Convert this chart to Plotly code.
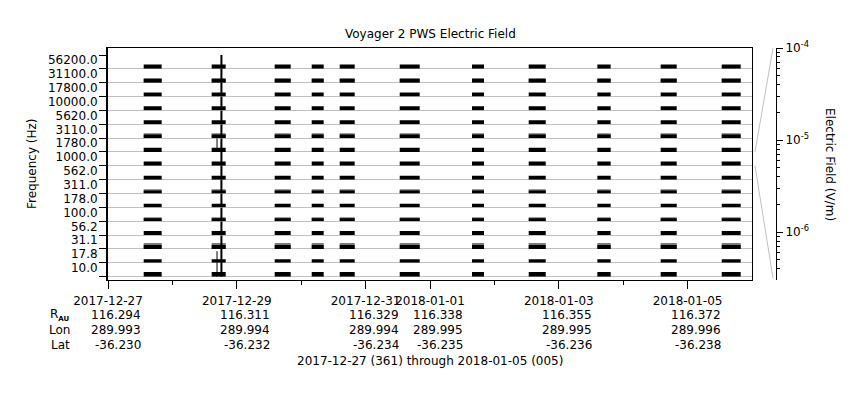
import plotly.graph_objects as go

# ---------------- data ----------------
freq_labels = ["56200.0", "31100.0", "17800.0", "10000.0", "5620.0", "3110.0",
               "1780.0", "1000.0", "562.0", "311.0", "178.0", "100.0",
               "56.2", "31.1", "17.8", "10.0"]

# envelope of the densely drawn (black) part of each channel, V/m
level_black = [1.8e-6, 1.5e-6, 1.7e-6, 1.7e-6, 1.7e-6, 1.4e-6, 1.8e-6, 1.9e-6,
               1.6e-6, 1.1e-6, 1.4e-6, 1.1e-6, 1.7e-6, 1.6e-6, 1.4e-6, 2.2e-6]
# envelope of the sparser (gray) excursions, V/m
level_gray = [1.8e-6, 2.1e-6, 1.7e-6, 1.7e-6, 1.7e-6, 2.3e-6, 1.8e-6, 1.9e-6,
              1.6e-6, 1.9e-6, 1.4e-6, 1.7e-6, 1.7e-6, 3.7e-6, 1.4e-6, 2.2e-6]
noise_floor = 3.1e-7

burst_start = ["2017-12-27 13:18", "2017-12-28 14:38", "2017-12-29 14:07",
               "2017-12-30 03:55", "2017-12-30 14:21", "2017-12-31 12:43",
               "2018-01-01 15:39", "2018-01-02 12:47", "2018-01-03 14:22",
               "2018-01-04 13:58", "2018-01-05 12:43"]
burst_end = ["2017-12-27 20:00", "2017-12-28 19:52", "2017-12-29 20:05",
             "2017-12-30 08:23", "2017-12-30 19:56", "2017-12-31 20:10",
             "2018-01-01 20:08", "2018-01-02 19:08", "2018-01-03 19:20",
             "2018-01-04 19:57", "2018-01-05 19:47"]

spike_main_time = "2017-12-28 18:16"
spike_main_values = [1e-4, 1e-4, 1e-4, 1e-4, 1e-4, 1e-4, 1e-4, 1e-4,
                     1e-4, 1e-4, 1e-4, 1e-4, 1e-4, 1e-4, 1e-4, 1e-4]
spike_minor_time = "2017-12-28 16:38"
spike_minor_values = [None, None, None, None, None, None, 1e-4, None,
                      None, None, None, None, None, None, 4e-5, 1e-4]

highlight_channel = "1000.0"

tick_dates = ["2017-12-27", "2017-12-29", "2017-12-31", "2018-01-01",
              "2018-01-03", "2018-01-05"]
minor_dates = ["2017-12-28", "2017-12-30", "2018-01-02", "2018-01-04"]
r_au = ["116.294", "116.311", "116.329", "116.338", "116.355", "116.372"]
lon = ["289.993", "289.994", "289.994", "289.995", "289.995", "289.996"]
lat = ["-36.230", "-36.232", "-36.234", "-36.235", "-36.236", "-36.238"]

x_range = ["2017-12-27", "2018-01-06"]
e_log_range = [-6.5186, -4.0]
e_major = [1e-6, 1e-5, 1e-4]
e_major_text = ["10<sup>-6</sup>", "10<sup>-5</sup>", "10<sup>-4</sup>"]
e_minor = [4e-7, 5e-7, 6e-7, 7e-7, 8e-7, 9e-7,
           2e-6, 3e-6, 4e-6, 5e-6, 6e-6, 7e-6, 8e-6, 9e-6,
           2e-5, 3e-5, 4e-5, 5e-5, 6e-5, 7e-5, 8e-5, 9e-5]

title_text = "Voyager 2 PWS Electric Field"
footer_text = "2017-12-27 (361) through 2018-01-05 (005)"

# ---------------- layout geometry ----------------
W, H = 860, 400
ML, MR, MT, MB = 108, 84, 48, 120
PW, PH = W - ML - MR, H - MT - MB
FRAME_RIGHT = 752
BAND_TOP = 55.0
BAND_H = 13.856
FONT = "DejaVu Sans"
GRID = "#c0c0c0"
n = len(freq_labels)


def px_y(p):
    return (H - MB - p) / PH


def px_x(p):
    return (p - ML) / PW


xdom = [0, px_x(FRAME_RIGHT)]

fig = go.Figure()

layout = dict(
    width=W, height=H,
    margin=dict(l=ML, r=MR, t=MT, b=MB, pad=0, autoexpand=False),
    paper_bgcolor="white", plot_bgcolor="rgba(0,0,0,0)",
    showlegend=False,
    font=dict(family=FONT, size=12, color="black"),
)

frame_range = [(H - MB - BAND_TOP) / BAND_H, (MT - BAND_TOP) / BAND_H]

layout["xaxis"] = dict(
    type="date", range=x_range, domain=xdom, anchor="y",
    showline=True, linecolor="black", linewidth=1, mirror=True,
    ticks="outside", ticklen=8, tickcolor="black", tickangle=0,
    tickvals=tick_dates, ticktext=tick_dates, ticklabelstandoff=2,
    minor=dict(tickvals=minor_dates, ticks="outside", ticklen=4,
               tickcolor="black", showgrid=False),
    showgrid=False, zeroline=False, fixedrange=True, automargin=False,
    tickfont=dict(size=12, family=FONT),
)
layout["yaxis"] = dict(
    range=frame_range, domain=[0, 1], anchor="x",
    tickvals=list(range(1, n + 1)), showticklabels=False,
    ticks="outside", ticklen=7, tickcolor="black",
    minor=dict(tickvals=[0], ticks="outside", ticklen=7,
               tickcolor="black", showgrid=False),
    showgrid=True, gridcolor=GRID, gridwidth=1,
    showline=True, linecolor="black", linewidth=2, mirror=False,
    zeroline=False, fixedrange=True, automargin=False,
)

# band axes
band_axes = []
for k in range(n):
    name = "yaxis%d" % (k + 2)
    top = BAND_TOP + k * BAND_H
    bot = BAND_TOP + (k + 1) * BAND_H
    layout[name] = dict(domain=[px_y(bot), px_y(top)], anchor="x",
                        type="log", range=e_log_range, visible=False,
                        fixedrange=True)
    band_axes.append("y%d" % (k + 2))

# frequency label axis
lab_id = n + 2
layout["yaxis%d" % lab_id] = dict(
    overlaying="y", anchor="x", side="left", range=frame_range,
    tickvals=[k + 0.37 for k in range(n)], ticktext=freq_labels,
    ticks="outside", ticklen=7, tickcolor="rgba(0,0,0,0)",
    showgrid=False, showline=False, zeroline=False, fixedrange=True,
    automargin=False, tickfont=dict(size=12, family=FONT),
)
# electric field axis on the right
ef_id = n + 3
layout["yaxis%d" % ef_id] = dict(
    overlaying="y", anchor="free", position=1, side="right",
    type="log", range=[e_log_range[0], e_log_range[1] + 0.0005],
    tickvals=e_major, ticktext=e_major_text,
    ticks="outside", ticklen=6, tickcolor="black",
    minor=dict(tickvals=e_minor, ticks="outside", ticklen=3,
               tickcolor="black", showgrid=False),
    showline=True, linecolor="black", linewidth=1,
    showgrid=False, zeroline=False, fixedrange=True, automargin=False,
    tickfont=dict(size=12, family=FONT),
)
# thin right border of the frame
rb_id = n + 4
layout["yaxis%d" % rb_id] = dict(
    overlaying="y", anchor="x", side="right", range=frame_range,
    showticklabels=False, ticks="", showline=True, linecolor="black",
    linewidth=1, showgrid=False, zeroline=False, fixedrange=True,
    automargin=False,
)
fig.update_layout(**layout)

# invisible traces so the frame and overlay axes get drawn
for ya, yv in [("y", 0), ("y%d" % lab_id, 0), ("y%d" % ef_id, 1e-5),
               ("y%d" % rb_id, 0)]:
    fig.add_trace(go.Scatter(x=[x_range[0]], y=[yv], yaxis=ya,
                             mode="markers", marker=dict(opacity=0),
                             hoverinfo="skip"))


def burst_polygons(level):
    xs, ys = [], []
    for s, e in zip(burst_start, burst_end):
        xs += [s, s, e, e, s, None]
        ys += [noise_floor, level, level, noise_floor, noise_floor, None]
    return xs, ys


for k in range(n):
    ya = band_axes[k]
    if level_gray[k] > level_black[k]:
        gx, gy = burst_polygons(level_gray[k])
        fig.add_trace(go.Scatter(x=gx, y=gy, yaxis=ya, mode="lines",
                                 fill="toself", fillcolor="#7a7a7a",
                                 line=dict(width=0, color="#7a7a7a"),
                                 hoverinfo="skip"))
    bx, by = burst_polygons(level_black[k])
    fig.add_trace(go.Scatter(x=bx, y=by, yaxis=ya, mode="lines",
                             fill="toself", fillcolor="black",
                             line=dict(width=0, color="black"),
                             hoverinfo="skip"))
    fig.add_trace(go.Scatter(x=[spike_main_time, spike_main_time],
                             y=[noise_floor, spike_main_values[k]],
                             yaxis=ya, mode="lines",
                             line=dict(width=2, color="black"),
                             hoverinfo="skip"))
    if spike_minor_values[k] is not None:
        fig.add_trace(go.Scatter(x=[spike_minor_time, spike_minor_time],
                                 y=[noise_floor, spike_minor_values[k]],
                                 yaxis=ya, mode="lines",
                                 line=dict(width=1, color="black"),
                                 hoverinfo="skip"))

# zoom lines linking the highlighted channel to the right-hand axis
hk = freq_labels.index(highlight_channel)
hdom = layout["yaxis%d" % (hk + 2)]["domain"]
x0 = xdom[1] + 3 / PW
x1 = 1 - 3 / PW
fig.add_shape(type="line", xref="paper", yref="paper", x0=x0, x1=x1,
              y0=hdom[1], y1=1.0, line=dict(color=GRID, width=1))
fig.add_shape(type="line", xref="paper", yref="paper", x0=x0, x1=x1,
              y0=hdom[0], y1=px_y(278), line=dict(color=GRID, width=1))

ann = []
ann.append(dict(text=title_text, x=px_x(430), y=px_y(34), xref="paper",
                yref="paper", xanchor="center", yanchor="middle",
                showarrow=False, font=dict(size=12)))
ann.append(dict(text="Frequency (Hz)", x=px_x(32), y=px_y(164),
                xref="paper", yref="paper", xanchor="center",
                yanchor="middle", textangle=-90, showarrow=False,
                font=dict(size=12)))
ann.append(dict(text="Electric Field (V/m)", x=px_x(830), y=px_y(164),
                xref="paper", yref="paper", xanchor="center",
                yanchor="middle", textangle=90, showarrow=False,
                font=dict(size=12)))
row_names = ["R<sub><span style='font-size:7px'><b>AU</b></span></sub>",
             "Lon", "Lat"]
row_vals = [r_au, lon, lat]
row_px = [315, 330, 345]
for name, vals, rp in zip(row_names, row_vals, row_px):
    ann.append(dict(text=name, x=px_x(72), y=px_y(rp), xref="paper",
                    yref="paper", xanchor="right", yanchor="middle",
                    showarrow=False, font=dict(size=12)))
    for d, v in zip(tick_dates, vals):
        ann.append(dict(text=v, x=d, xref="x", y=px_y(rp), yref="paper",
                        xanchor="right", yanchor="middle", xshift=35,
                        showarrow=False, font=dict(size=12)))
ann.append(dict(text=footer_text, x=px_x(430), y=px_y(361), xref="paper",
                yref="paper", xanchor="center", yanchor="middle",
                showarrow=False, font=dict(size=12)))
fig.update_layout(annotations=ann)

fig.write_html("out.html", config={"displayModeBar": False},
               post_script="document.body.style.margin='0px';"
                           "document.body.style.overflow='hidden';")
